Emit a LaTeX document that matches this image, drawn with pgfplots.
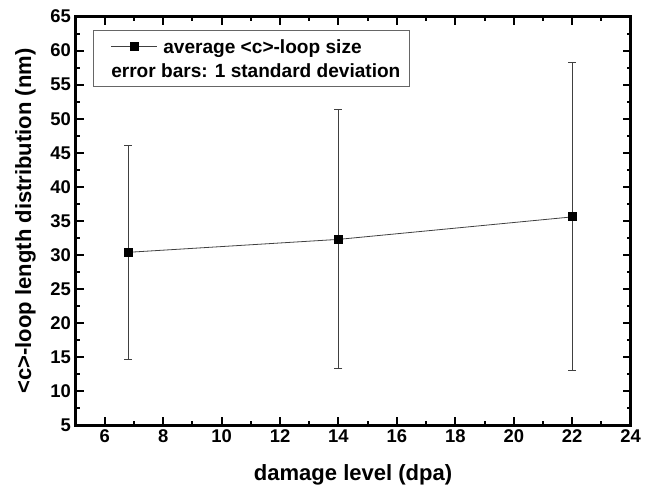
\documentclass[border=0pt]{standalone}
\usepackage{pgfplots}
\pgfplotsset{compat=1.18}
\usetikzlibrary{calc}
\usepackage{fontspec}
\setmainfont{Liberation Sans}
\begin{document}
\begin{tikzpicture}
\begin{axis}[
  name=ax,
  scale only axis, width=416pt, height=306.4pt,
  xmin=5, xmax=24, ymin=5, ymax=65,
  xtick={6,8,...,24}, ytick={5,10,...,65},
  minor x tick num=1, minor y tick num=1,
  tick align=inside, major tick length=6pt, minor tick length=3pt,
  every tick/.style={black, line width=1.5pt},
  axis line style={line width=2pt},
  /pgf/number format/assume math mode=true,
  ticklabel style={font=\fontsize{13.8}{16}\selectfont\bfseries},
  xlabel={damage level (dpa)},
  ylabel={<c>-loop length distribution (nm)},
  label style={font=\fontsize{16.5}{19}\selectfont\bfseries},
  xlabel style={yshift=-9pt},
  ylabel style={yshift=4pt},
  legend style={at={(axis description cs:0.031,0.967)}, anchor=north west,
    font=\fontsize{14.3}{16}\selectfont\bfseries, draw=black!60, line width=0.8pt,
    inner xsep=5pt, inner ysep=3pt, row sep=0pt,
    nodes={inner sep=2pt, text height=12pt, text depth=2pt}},
  legend cell align=left,
  legend image code/.code={\path[draw=none,fill=none] (0pt,-0.5pt) rectangle (45.5pt,0.5pt);
    \draw[mark repeat=2,mark phase=2,#1] plot coordinates {(8.5pt,0pt)(25.5pt,0pt)(42.5pt,0pt)};},
]
\addplot[black!75, line width=0.6pt, mark=square*, mark size=3pt,
  mark options={solid, fill=black, draw=black},
  error bars/.cd, y dir=both, y explicit,
  error bar style={black!75, line width=0.6pt},
  error mark options={rotate=90, mark size=3pt, black!75, line width=0.6pt}]
  coordinates {
    (6.8,30.4) +- (0,15.7)
    (14,32.3) +- (0,19.0)
    (22,35.6) +- (0,22.6)
  };
\addlegendentry{average <c>-loop size}
\addlegendimage{empty legend}
\addlegendentry{\hspace*{-39pt}error bars: 1 standard deviation}
\end{axis}
\pgfresetboundingbox
\path ($(ax.south west)+(-56.6pt,-47.25pt)$) rectangle ($(ax.north east)+(19pt,12.4pt)$);
\end{tikzpicture}
\end{document}
